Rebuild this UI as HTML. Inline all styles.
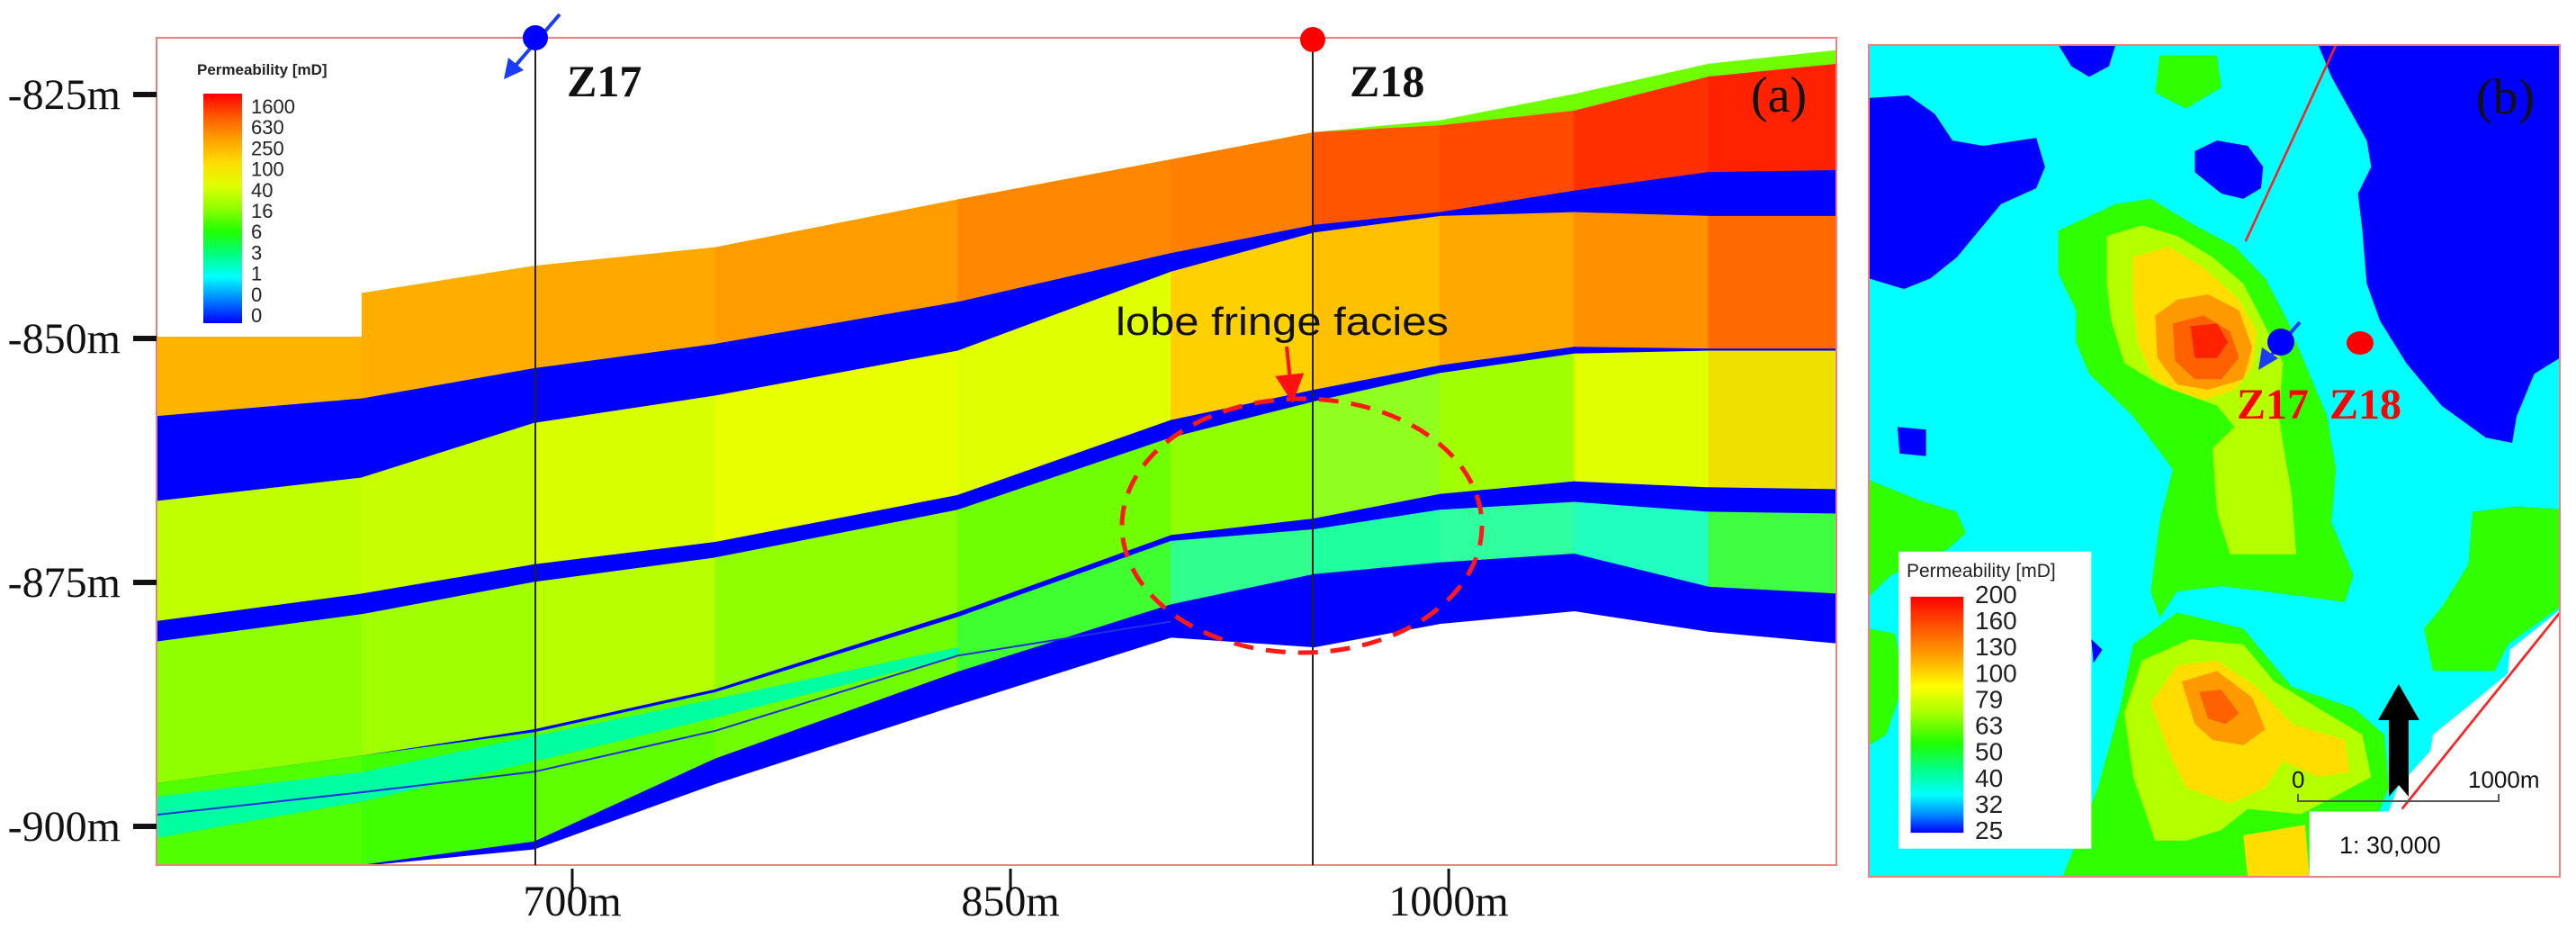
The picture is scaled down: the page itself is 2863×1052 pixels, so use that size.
<!DOCTYPE html>
<html><head><meta charset="utf-8"><style>
html,body{margin:0;padding:0;background:#fff;}
svg{display:block;}
.ser{font-family:"Liberation Serif",serif;}
.san{font-family:"Liberation Sans",sans-serif;}
</style></head><body>
<svg id="fig" width="2863" height="1052" viewBox="0 0 2863 1052" xmlns="http://www.w3.org/2000/svg">
<defs>
<clipPath id="clipA"><rect x="174" y="42" width="1867" height="919"/></clipPath>
<linearGradient id="gradA" x1="0" y1="0" x2="0" y2="1">
<stop offset="0" stop-color="#ff0000"/><stop offset="0.1" stop-color="#ff5a00"/><stop offset="0.2" stop-color="#ffa000"/><stop offset="0.3" stop-color="#ffdd00"/><stop offset="0.4" stop-color="#e0ff00"/><stop offset="0.5" stop-color="#90ff00"/><stop offset="0.6" stop-color="#20ff00"/><stop offset="0.7" stop-color="#00ff80"/><stop offset="0.8" stop-color="#00ffff"/><stop offset="0.9" stop-color="#0080ff"/><stop offset="1" stop-color="#0000ff"/>
</linearGradient>
<linearGradient id="gradB" x1="0" y1="0" x2="0" y2="1">
<stop offset="0" stop-color="#ff0000"/><stop offset="0.12" stop-color="#ff5000"/><stop offset="0.25" stop-color="#ffa000"/><stop offset="0.38" stop-color="#ffff00"/><stop offset="0.5" stop-color="#a0ff00"/><stop offset="0.62" stop-color="#20ff00"/><stop offset="0.74" stop-color="#00ff90"/><stop offset="0.84" stop-color="#00ffff"/><stop offset="0.92" stop-color="#0090ff"/><stop offset="1" stop-color="#0000ff"/>
</linearGradient>
<marker id="redHead" markerWidth="8" markerHeight="8" refX="4" refY="4" orient="auto" markerUnits="strokeWidth"><path d="M0,0 L8,4 L0,8 z" fill="#ff1010"/></marker>
</defs>

<!-- Panel (a) -->
<g id="panelA">
  <g id="section" clip-path="url(#clipA)"></g>
  <rect x="174" y="40" width="228" height="334" fill="#fff"/>
  <rect x="174" y="42" width="1867" height="919" fill="none" stroke="#f08080" stroke-width="2"/>
  <g>
    <text x="219" y="83" class="san" font-size="17" font-weight="bold" fill="#222">Permeability [mD]</text>
    <rect x="226" y="104" width="43" height="255" fill="url(#gradA)"/>
    <g id="legendALabels" class="san" font-size="22" fill="#222"></g>
  </g>
  <g id="yAxis"></g>
  <g id="xAxis"></g>
  <g>
    <line x1="595" y1="40" x2="595" y2="961" stroke="#222" stroke-width="2"/>
    <line x1="622" y1="16" x2="572" y2="74" stroke="#1a3cff" stroke-width="4"/>
    <polygon points="560,88 565,64 582,78" fill="#1a3cff"/>
    <circle cx="595" cy="42" r="14" fill="#0000ff"/>
    <text x="630" y="107" class="ser" font-size="50" font-weight="bold" fill="#111">Z17</text>
  </g>
  <g>
    <line x1="1459" y1="44" x2="1459" y2="961" stroke="#222" stroke-width="2"/>
    <circle cx="1459" cy="44" r="14" fill="#ff0000"/>
    <text x="1500" y="107" class="ser" font-size="50" font-weight="bold" fill="#111">Z18</text>
  </g>
  <text x="1946" y="124" class="ser" font-size="56" fill="#111">(a)</text>
  <ellipse cx="1447" cy="584" rx="200" ry="141" fill="none" stroke="#ff1a1a" stroke-width="5" stroke-dasharray="22 14"/>
  <text x="1240" y="372" class="san" font-size="44" textLength="370" lengthAdjust="spacingAndGlyphs" fill="#111">lobe fringe facies</text>
  <line x1="1430" y1="385" x2="1435" y2="432" stroke="#ff1010" stroke-width="4" marker-end="url(#redHead)"/>
</g>

<!-- Panel (b) -->
<g id="panelB">
<svg x="2077" y="50" width="768" height="924" viewBox="0 0 1568 1568" preserveAspectRatio="none">
  <rect x="0" y="0" width="1568" height="1568" fill="#00ffff"/>
  <g fill="#0000ff">
    <polygon points="430,0 560,0 545,40 500,60 460,40"/>
    <polygon points="0,100 90,95 150,130 190,180 260,190 380,175 400,230 380,270 300,300 260,340 200,400 140,440 80,460 0,440"/>
    <polygon points="740,200 790,180 860,190 895,230 890,270 850,290 800,280 740,240"/>
    <polygon points="1020,0 1568,0 1568,590 1510,620 1470,700 1460,750 1400,740 1300,680 1220,600 1160,520 1130,450 1120,350 1110,280 1140,230 1130,180 1090,120 1050,60"/>
    <polygon points="65,720 130,725 130,775 70,770"/>
    <polygon points="505,1120 530,1140 510,1165"/>
  </g>
  <g fill="#30ff00">
    <polygon points="660,20 790,20 800,80 720,120 650,90"/>
    <polygon points="430,350 560,300 640,290 740,340 830,380 900,440 950,520 990,600 1040,700 1060,800 1050,900 1100,1000 1080,1050 900,1030 800,1020 700,1030 660,1080 640,1030 660,900 690,800 600,700 500,620 470,560 470,500 430,430"/>
    <polygon points="600,1130 700,1070 850,1100 960,1210 1100,1250 1170,1300 1180,1400 1150,1460 1000,1490 1000,1568 440,1568 520,1400 570,1250"/>
    <polygon points="0,820 120,860 200,880 220,920 180,950 50,1000 0,1040"/>
    <polygon points="0,1100 60,1110 80,1200 40,1300 0,1320"/>
    <polygon points="1370,880 1470,870 1568,875 1568,1060 1450,1130 1420,1180 1280,1180 1260,1100 1300,1060 1360,980"/>
  </g>
  <g fill="#b4ff00">
    <polygon points="540,360 620,340 700,360 780,400 850,450 900,530 940,600 930,700 960,850 970,960 820,960 790,880 780,760 830,720 790,680 660,640 580,600 550,520 540,450"/>
    <polygon points="620,1160 730,1120 850,1130 920,1200 1000,1240 1120,1300 1140,1380 1050,1420 980,1450 860,1440 800,1480 720,1500 650,1500 600,1380 580,1260"/>
  </g>
  <g fill="#ffdd00">
    <polygon points="600,400 680,380 760,420 840,480 880,540 870,610 830,650 760,670 690,650 640,620 610,560 600,480"/>
    <polygon points="700,1170 790,1160 880,1210 960,1280 1080,1310 1090,1370 1020,1380 940,1350 900,1400 820,1430 720,1400 680,1330 640,1240"/>
    <polygon points="850,1490 990,1470 1000,1568 860,1568"/>
  </g>
  <g fill="#ff9900">
    <polygon points="650,510 700,480 770,470 840,500 870,570 850,630 770,650 700,640 655,590"/>
    <polygon points="710,1200 790,1180 870,1230 900,1290 850,1320 780,1310 740,1280"/>
  </g>
  <g fill="#ff6000">
    <polygon points="690,525 760,510 820,540 840,590 800,630 740,630 695,595"/>
    <polygon points="750,1220 800,1215 840,1260 810,1280 770,1270"/>
  </g>
  <polygon points="730,530 790,525 815,560 790,590 740,590" fill="#ff2200"/>
  <polygon points="1568,1065 1455,1140 1450,1185 1370,1240 1280,1300 1275,1330 1200,1400 1180,1445 1000,1445 1000,1568 1568,1568" fill="#fff"/>
  <line x1="1060" y1="0" x2="855" y2="370" stroke="#ff2020" stroke-width="5"/>
  <line x1="1568" y1="1070" x2="1210" y2="1440" stroke="#ff2020" stroke-width="5"/>
  <rect x="68" y="955" width="437" height="560" fill="#fff"/>
  <rect x="95" y="1040" width="120" height="445" fill="url(#gradB)"/>
</svg>
  <rect x="2077" y="50" width="768" height="924" fill="none" stroke="#f08080" stroke-width="2"/>
  <text x="2119" y="641" class="san" font-size="21" fill="#222">Permeability [mD]</text>
  <g id="legendBLabels" class="san" font-size="28" fill="#222"></g>
  <line x1="2556" y1="358" x2="2524" y2="395" stroke="#1a3cff" stroke-width="4"/>
  <polygon points="2510,411 2514,386 2532,398" fill="#1a3cff"/>
  <ellipse cx="2535" cy="380" rx="15" ry="15" fill="#0000ff"/>
  <ellipse cx="2623" cy="381" rx="15" ry="13" fill="#ff0000"/>
  <text x="2486" y="465" class="ser" font-size="48" font-weight="bold" fill="#ff0000">Z17</text>
  <text x="2589" y="465" class="ser" font-size="48" font-weight="bold" fill="#ff0000">Z18</text>
  <text x="2752" y="126" class="ser" font-size="56" fill="#111">(b)</text>
  <polygon points="2666,760 2689,800 2677,800 2677,885 2666,872 2655,885 2655,800 2643,800" fill="#000"/>
  <g>
    <path d="M2554,882 L2554,890 L2777,890 L2777,882" fill="none" stroke="#555" stroke-width="2"/>
    <text x="2547" y="875" class="san" font-size="26" fill="#111">0</text>
    <text x="2743" y="875" class="san" font-size="26" fill="#111">1000m</text>
    <text x="2600" y="948" class="san" font-size="27" fill="#111">1:  30,000</text>
  </g>
</g>
</svg>
<script>
// ---- Cross-section data (distance in m, depth in m) ----
const knotDist = [558, 628, 687, 749, 832, 905, 954, 997, 1043, 1089, 1133];
const surfTop  = [-848.4,-845.4,-842.6,-840.7,-835.8,-831.7,-828.9,-827.7,-825.0,-821.9,-820.5];
const surfTopG = [-848.4,-845.4,-842.6,-840.7,-835.8,-831.7,-828.9,-828.2,-826.7,-823.2,-821.9];
const surfB1t  = [-858.0,-856.2,-853.1,-850.6,-846.3,-841.3,-838.4,-837.1,-834.9,-833.0,-832.8];
const surfB1b  = [-866.7,-864.3,-858.7,-855.9,-851.3,-843.2,-839.2,-837.5,-837.1,-837.5,-837.5];
const surfB2t  = [-879.0,-876.2,-873.2,-870.9,-866.1,-858.4,-855.3,-852.8,-850.9,-851.1,-851.1];
const surfB2b  = [-881.1,-878.3,-875.0,-872.5,-867.6,-860.2,-856.5,-853.6,-851.6,-851.3,-851.3];
const surfB25t = [-895.6,-892.8,-890.1,-886.0,-878.1,-870.2,-868.5,-866.0,-864.7,-865.3,-865.5];
const surfB25b = [-895.6,-892.8,-890.4,-886.3,-878.6,-870.8,-869.6,-867.6,-866.8,-867.8,-868.0];
const surfB3t  = [-904.0,-904.0,-901.6,-893.1,-884.2,-877.3,-874.2,-873.0,-872.1,-875.5,-876.2];
const surfBot  = [-904.0,-904.0,-902.3,-895.6,-887.5,-880.6,-881.6,-879.2,-877.9,-880.0,-881.2];
const cyanTop  = [-897.0,-894.5,-890.8,-887.0,-881.7];
const cyanBot  = [-901.1,-897.4,-893.3,-888.8,-882.5];
const thinLine = [-898.8,-896.5,-894.4,-890.2,-882.5,-879.0];
const topColors  = ['#ffb400','#ffae00','#ffa800','#ff9c00','#ff8800','#ff8000','#ff5500','#ff4a00','#ff3000','#ff2200'];
const midColors  = ['#c0ff00','#c8ff00','#d8ff00','#e8ff00','#e0ff00','#ffd000','#ffc000','#ffa800','#ff9000','#ff6a00'];
const low1Colors = ['#90ff00','#a0ff00','#b8ff00','#90ff00','#70ff00','#90ff00','#90ff20','#a0ff00','#e0ff00','#f0e000'];
const low2Colors = ['#50ff00','#40ff00','#60ff00','#70ff00','#40ff30','#30ff90','#20ffa0','#30ffa0','#20ffc0','#40ff40'];
// ---- axis data ----
const yTicks = [-825, -850, -875, -900];
const xTicks = [700, 850, 1000];
const legendALabels = ['1600','630','250','100','40','16','6','3','1','0','0'];
const legendBLabels = ['200','160','130','100','79','63','50','40','32','25'];

const NS = 'http://www.w3.org/2000/svg';
function xScale(d){ return 636 + (d - 700) * 3.247; }
function yScale(v){ return 105 + (-825 - v) * 10.84; }

const sec = document.getElementById('section');
function zone(top, bot, colors, name){
  const n = Math.min(top.length, bot.length);
  for (let i = 0; i < n - 1; i++){
    const c = Array.isArray(colors) ? colors[i] : colors;
    const x0 = xScale(knotDist[i]), x1 = xScale(knotDist[i+1]);
    const pts = [[x0,yScale(top[i])],[x1,yScale(top[i+1])],[x1,yScale(bot[i+1])],[x0,yScale(bot[i])]];
    const p = document.createElementNS(NS,'polygon');
    p.setAttribute('points', pts.map(q=>q[0].toFixed(1)+','+q[1].toFixed(1)).join(' '));
    p.setAttribute('fill', c);
    p.setAttribute('stroke', c);
    p.setAttribute('stroke-width', '1.2');
    
    
    sec.appendChild(p);
  }
}
zone(surfTop, surfTopG, '#70ff00', 'top-green-layer');
zone(surfTopG, surfB1t, topColors, 'upper-sand-layer');
zone(surfB1t, surfB1b, '#0000ff', 'upper-mudstone-layer');
zone(surfB1b, surfB2t, midColors, 'middle-sand-layer');
zone(surfB2t, surfB2b, '#0000ff', 'middle-mudstone-layer');
zone(surfB2b, surfB25t, low1Colors, 'lower-sand-layer');
zone(surfB25t, surfB25b, '#0000ff', 'thin-mudstone-layer');
zone(surfB25b, surfB3t, low2Colors, 'basal-sand-layer');
zone(cyanTop, cyanBot, '#00ffa0', 'low-perm-stripe');
zone(surfB3t, surfBot, '#0000ff', 'basal-mudstone-layer');
const tl = document.createElementNS(NS,'polyline');
tl.setAttribute('points', thinLine.map((v,i)=>xScale(knotDist[i]).toFixed(1)+','+yScale(v).toFixed(1)).join(' '));
tl.setAttribute('fill','none'); tl.setAttribute('stroke','#2030e0'); tl.setAttribute('stroke-width','2');


sec.appendChild(tl);

const ya = document.getElementById('yAxis');
yTicks.forEach(v=>{
  const y = yScale(v);
  const t = document.createElementNS(NS,'line');
  t.setAttribute('x1','148'); t.setAttribute('x2','174');
  t.setAttribute('y1',y); t.setAttribute('y2',y);
  t.setAttribute('stroke','#111'); t.setAttribute('stroke-width','6');
  
  
  ya.appendChild(t);
  const l = document.createElementNS(NS,'text');
  l.setAttribute('x','134'); l.setAttribute('y', y + 16);
  l.setAttribute('text-anchor','end'); l.setAttribute('class','ser');
  l.setAttribute('font-size','48'); l.setAttribute('fill','#111');
  l.textContent = v + 'm';
  
  
  ya.appendChild(l);
});
const xa = document.getElementById('xAxis');
xTicks.forEach(d=>{
  const x = xScale(d);
  const t = document.createElementNS(NS,'line');
  t.setAttribute('x1',x); t.setAttribute('x2',x);
  t.setAttribute('y1','965'); t.setAttribute('y2','990');
  t.setAttribute('stroke','#111'); t.setAttribute('stroke-width','3');
  
  
  xa.appendChild(t);
  const l = document.createElementNS(NS,'text');
  l.setAttribute('x',x); l.setAttribute('y','1017');
  l.setAttribute('text-anchor','middle'); l.setAttribute('class','ser');
  l.setAttribute('font-size','48'); l.setAttribute('fill','#111');
  l.textContent = d + 'm';
  
  
  xa.appendChild(l);
});
const la = document.getElementById('legendALabels');
legendALabels.forEach((s,i)=>{
  const y = 118 + i * (232 / (legendALabels.length - 1));
  const l = document.createElementNS(NS,'text');
  l.setAttribute('x','279'); l.setAttribute('y', y + 8);
  l.textContent = s;
  
  
  la.appendChild(l);
});
const lb = document.getElementById('legendBLabels');
legendBLabels.forEach((s,i)=>{
  const y = 660 + i * (262 / (legendBLabels.length - 1));
  const l = document.createElementNS(NS,'text');
  l.setAttribute('x','2195'); l.setAttribute('y', y + 10);
  l.textContent = s;
  
  
  lb.appendChild(l);
});
</script>
</body></html>
